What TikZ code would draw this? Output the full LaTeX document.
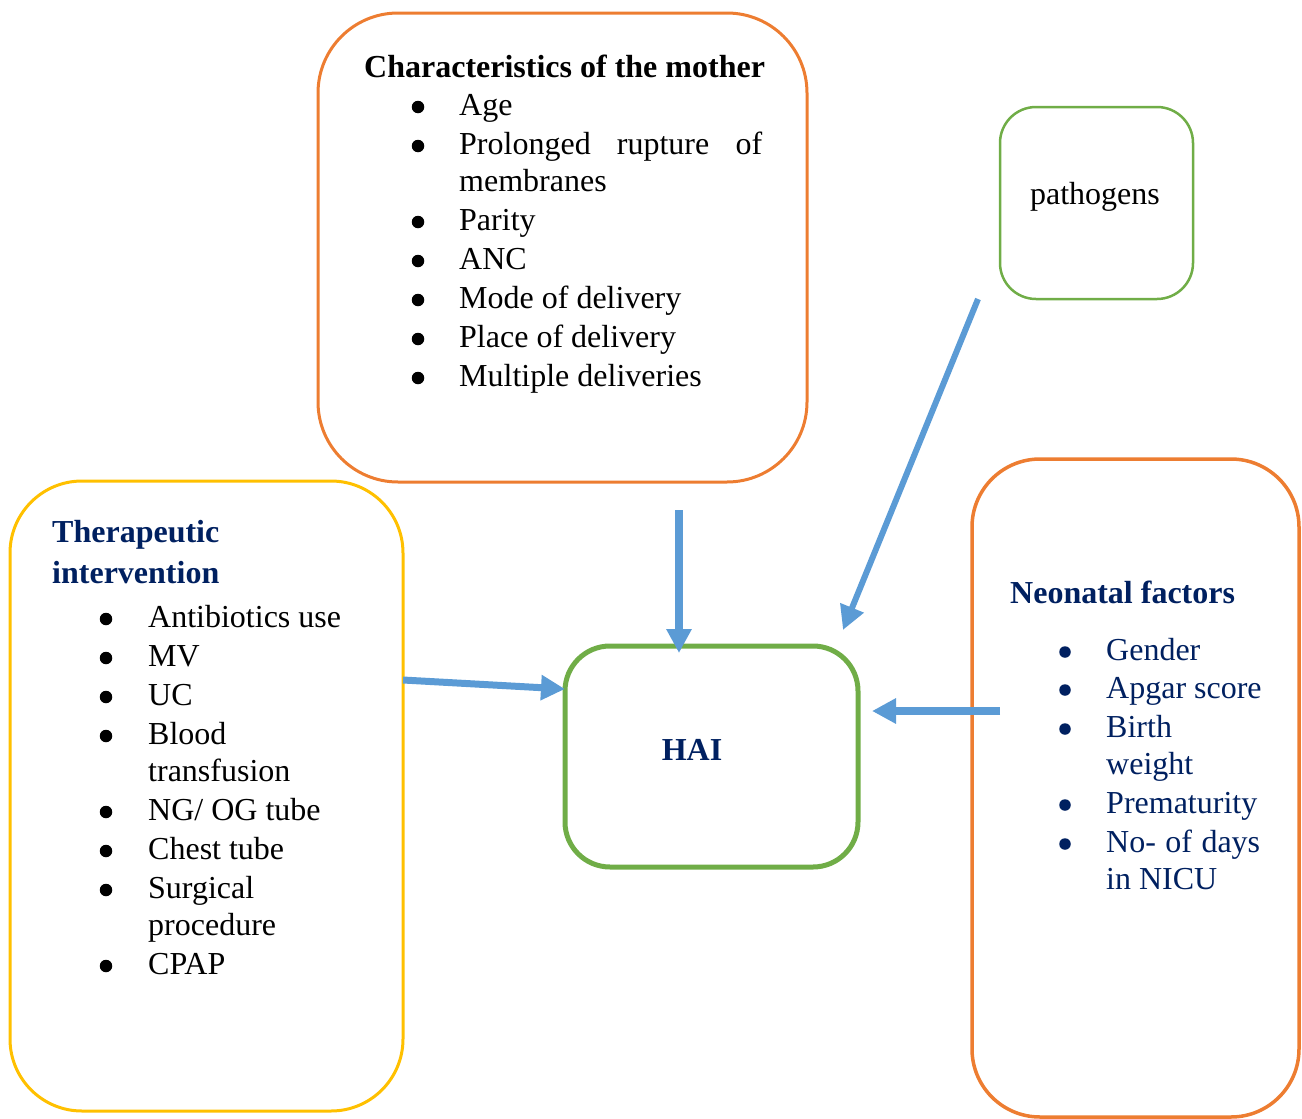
\documentclass[tikz,border=0pt]{standalone}
\usepackage{fontspec}
\setmainfont{Liberation Serif}
\usetikzlibrary{arrows.meta}
\definecolor{borange}{HTML}{ED7D31}
\definecolor{bgreen}{HTML}{70AD47}
\definecolor{byellow}{HTML}{FFC000}
\definecolor{bblue}{HTML}{5B9BD5}
\definecolor{navy}{HTML}{002060}
\begin{document}
\begin{tikzpicture}[x=1pt,y=-1pt,
  box/.style={draw, inner sep=0pt, fill=none},
  txt/.style={anchor=base west, inner sep=0pt, font=\fontsize{32}{39}\selectfont},
  ttl/.style={txt, font=\fontsize{32}{39}\selectfont\bfseries},
  bul/.style={circle, fill=black, inner sep=0pt, minimum size=12.5pt},
  conn/.style={draw=bblue, line width=8pt, -{Triangle[length=24pt,width=24pt]}}
]
\useasboundingbox (0,0) rectangle (1302,1119);

% boxes
\node[box, draw=borange, line width=3pt, rounded corners=80pt, minimum width=489pt, minimum height=469pt] (mother) at (562.5,247.5) {};
\node[box, draw=bgreen, line width=2.5pt, rounded corners=36pt, minimum width=193pt, minimum height=192pt] (path) at (1096.5,203) {};
\node[box, draw=byellow, line width=3pt, rounded corners=72pt, minimum width=393pt, minimum height=630pt] (ther) at (206.5,796) {};
\node[box, draw=bgreen, line width=5pt, rounded corners=45pt, minimum width=293pt, minimum height=221pt] (hai) at (711.5,756.5) {};
\node[box, draw=borange, line width=3.5pt, rounded corners=68pt, minimum width=327pt, minimum height=658pt] (neo) at (1135.5,788) {};

% mother text
\node[ttl] (mt) at (364,77) {Characteristics of the mother};
\foreach \t/\y [count=\i] in {Age/115, {\makebox[303pt][s]{Prolonged rupture of}}/154, Parity/230, ANC/269, Mode of delivery/308, Place of delivery/347, Multiple deliveries/386}{
  \node[bul] (mb\i) at (418,\y-8) {};
  \node[txt] (mi\i) at (459,\y) {\t};
}
\node[txt] (mi2b) at (459,191) {membranes};

% pathogens
\node[anchor=base, inner sep=0pt, font=\fontsize{32}{39}\selectfont] (pt) at (1095,204) {pathogens};

% therapeutic
\node[ttl, text=navy] (tt1) at (52,542) {Therapeutic};
\node[ttl, text=navy] (tt2) at (52,583) {intervention};
\foreach \t/\y [count=\i] in {Antibiotics use/627, MV/666, UC/705, Blood/744, {NG/ OG tube}/820, Chest tube/859, Surgical/898, CPAP/974}{
  \node[bul] (tb\i) at (106,\y-8) {};
  \node[txt] (ti\i) at (148,\y) {\t};
}
\node[txt] (ti4b) at (148,781) {transfusion};
\node[txt] (ti7b) at (148,935) {procedure};

% HAI
\node[anchor=base, inner sep=0pt, font=\fontsize{32}{39}\selectfont\bfseries, text=navy] (hait) at (692,760) {HAI};

% neonatal
\node[ttl, text=navy] (nt) at (1010,603) {Neonatal factors};
\foreach \t/\y [count=\i] in {Gender/660, Apgar score/698, Birth/737, Prematurity/813, {\makebox[154pt][s]{No- of days}}/852}{
  \node[bul, fill=navy, minimum size=11.5pt] (nb\i) at (1065,\y-8) {};
  \node[txt, text=navy] (ni\i) at (1106,\y) {\t};
}
\node[txt, text=navy] (ni3b) at (1106,774) {weight};
\node[txt, text=navy] (ni5b) at (1106,889) {in NICU};

% connectors
\coordinate (a1s) at (679,510);
\coordinate (a1e) at (679,653);
\coordinate (a2s) at (978,299);
\coordinate (a2e) at (843,630);
\coordinate (a3s) at (403,680);
\coordinate (a3e) at (565,689);
\coordinate (a4s) at (1000,711);
\coordinate (a4e) at (872,711);
\draw[conn] (a1s) -- (a1e);
\draw[conn, line width=6pt] (a2s) -- (a2e);
\draw[conn, line width=7pt] (a3s) -- (a3e);
\draw[conn, line width=7.5pt] (a4s) -- (a4e);
\end{tikzpicture}
\end{document}
